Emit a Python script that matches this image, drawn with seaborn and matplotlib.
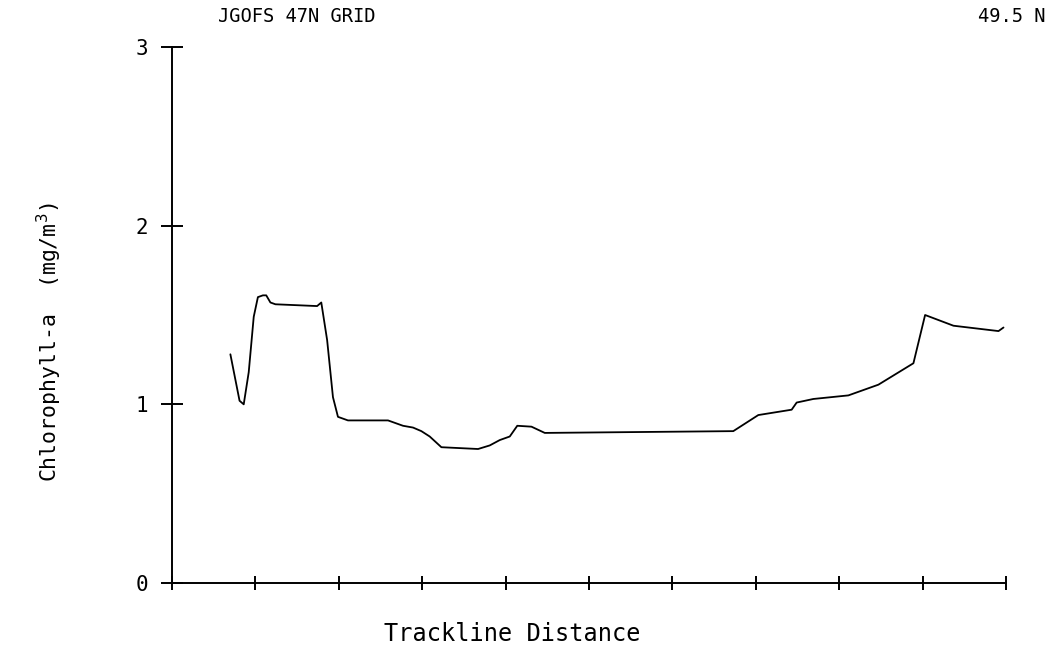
import numpy as np
import pandas as pd
import matplotlib
matplotlib.use("Agg")
import matplotlib.pyplot as plt
import seaborn as sns

# trackline samples (x in tick intervals, chl-a mg/m3)
distance = [0.70, 0.81, 0.86, 0.92, 0.98, 1.03, 1.09, 1.13, 1.18, 1.24,
            1.74, 1.79, 1.86, 1.93, 1.99, 2.11, 2.59, 2.77, 2.89, 2.99,
            3.09, 3.23, 3.67, 3.81, 3.93, 4.05, 4.14, 4.31, 4.47, 6.73,
            7.03, 7.43, 7.49, 7.69, 8.11, 8.47, 8.89, 9.03, 9.37, 9.91, 9.97]
chl = [1.28, 1.02, 1.00, 1.18, 1.49, 1.60, 1.61, 1.61, 1.57, 1.56,
       1.55, 1.57, 1.36, 1.04, 0.93, 0.91, 0.91, 0.88, 0.87, 0.85,
       0.82, 0.76, 0.75, 0.77, 0.80, 0.82, 0.88, 0.875, 0.84, 0.85,
       0.94, 0.97, 1.01, 1.03, 1.05, 1.11, 1.23, 1.50, 1.44, 1.41, 1.43]
x_ticks = list(range(0, 11))
y_ticks = [0, 1, 2, 3]
y_labels = ["0", "1", "2", "3"]

df = pd.DataFrame({"distance": distance, "chl": chl})

sns.set_style("ticks")
plt.rcParams['font.family'] = ['DejaVu Sans Mono', 'DejaVu Sans']
plt.rcParams['text.color'] = 'black'
plt.rcParams['axes.labelcolor'] = 'black'

fig = plt.figure(figsize=(10.53, 6.48), dpi=100)
ax = fig.add_axes([172/1053, 1-583/648, 834/1053, 536/648])

sns.lineplot(data=df, x="distance", y="chl", color="black", linewidth=1.3,
             sort=False, ax=ax)

ax.set_xlim(0, 10)
ax.set_ylim(0, 3)
ax.set_xticks(x_ticks)
ax.set_xticklabels([])
ax.set_yticks(y_ticks)
ax.set_yticklabels(y_labels, fontsize=15)

sns.despine(ax=ax)
for s in ["left", "bottom"]:
    ax.spines[s].set_linewidth(1.4)
    ax.spines[s].set_color("black")

ax.tick_params(axis="y", direction="inout", length=16, width=1.4, pad=9,
               colors="black")
ax.tick_params(axis="x", direction="inout", length=10, width=1.4,
               colors="black")

ax.set_xlabel("Trackline Distance", fontsize=17)
ax.xaxis.set_label_coords(0.408, -0.072)
ax.set_ylabel(r"Chlorophyll-a  (mg/m$^3$)", fontsize=15.5)
ax.yaxis.set_label_coords(-0.13, 0.45)

fig.text(218/1053, 1-17/648, "JGOFS 47N GRID", fontsize=13.5, va="center",
         ha="left")
fig.text(1045/1053, 1-17/648, "49.5 N", fontsize=13.5, va="center",
         ha="right")

fig.savefig("out.png", dpi=100, facecolor="white")
